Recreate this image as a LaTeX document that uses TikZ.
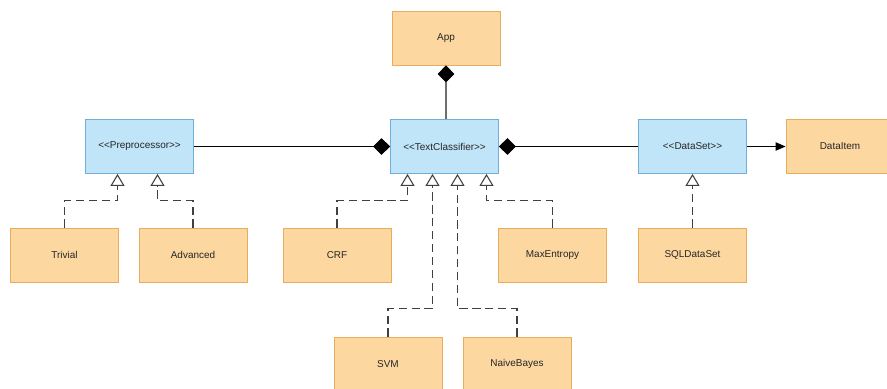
\documentclass[tikz,border=0pt]{standalone}
\usepackage{fontspec}
\setmainfont{Liberation Sans}
\definecolor{clsfill}{RGB}{252, 215, 160}
\definecolor{clsdraw}{RGB}{232, 172, 92}
\definecolor{ifcfill}{RGB}{192, 228, 248}
\definecolor{ifcdraw}{RGB}{112, 176, 216}
\definecolor{linkgray}{RGB}{110, 110, 110}
\usetikzlibrary{arrows.meta, positioning}

\tikzset{
  classbox/.style={draw=clsdraw, fill=clsfill, line width=0.7pt,
    minimum width=3.24cm, minimum height=1.62cm, inner sep=0pt,
    font=\fontsize{8.5}{10}\selectfont, text=black!85},
  ifacebox/.style={classbox, draw=ifcdraw, fill=ifcfill},
  compose/.style={line width=0.9pt, -{Diamond[length=0.51cm, width=0.5cm]}},
  realize/.style={line width=0.9pt, draw=black!75, dash pattern=on 7pt off 4pt,
    -{Triangle[open, length=0.36cm, width=0.42cm, fill=white]}},
  assoc/.style={line width=0.9pt, -{Triangle[length=0.3cm, width=0.25cm]}}
}

\begin{document}
\begin{tikzpicture}[x=0.03cm, y=-0.03cm]
  \useasboundingbox (0, 0) rectangle (887, 389);

  % interfaces
  \node[ifacebox] (pre) at (139.5, 146.5) {{<}{<}Preprocessor{>}{>}};
  \node[ifacebox] (tc)  at (444.5, 146.5) {{<}{<}TextClassifier{>}{>}};
  \node[ifacebox] (ds)  at (692.5, 146.5) {{<}{<}DataSet{>}{>}};

  % classes
  \node[classbox] (app)   at (446, 38)    {App};
  \node[classbox] (item)  at (840, 146.5) {DataItem};
  \node[classbox] (triv)  at (64.5, 255)  {Trivial};
  \node[classbox] (adv)   at (193, 255)   {Advanced};
  \node[classbox] (crf)   at (337, 255)   {CRF};
  \node[classbox] (maxe)  at (552.5, 255) {MaxEntropy};
  \node[classbox] (sql)   at (692.5, 255) {SQLDataSet};
  \node[classbox] (svm)   at (388, 364)   {SVM};
  \node[classbox] (bayes) at (517, 364)   {NaiveBayes};

  % composition
  \draw[compose, draw=linkgray, {Diamond[length=0.51cm, width=0.5cm, color=black]}-] (app.south) -- (app.south |- tc.north);
  \draw[compose] (pre.east) -- (tc.west);
  \draw[compose] (ds.west) -- (tc.east);
  \draw[assoc] (ds.east) -- (item.west);

  % realization of Preprocessor
  \draw[realize] (triv.north) -- ++(0, -27) -| ([xshift=-0.66cm]pre.south);
  \draw[realize] (adv.north)  -- ++(0, -27) -| ([xshift=0.54cm]pre.south);

  % realization of TextClassifier
  \draw[realize] (crf.north)   -- ++(0, -27) -| ([xshift=-1.11cm]tc.south);
  \draw[realize] (maxe.north)  -- ++(0, -27) -| ([xshift=1.26cm]tc.south);
  \draw[realize] (svm.north)   -- ++(0, -28) -| ([xshift=-0.36cm]tc.south);
  \draw[realize] (bayes.north) -- ++(0, -28) -| ([xshift=0.39cm]tc.south);

  % realization of DataSet
  \draw[realize] (sql.north) -- (ds.south);
\end{tikzpicture}
\end{document}
